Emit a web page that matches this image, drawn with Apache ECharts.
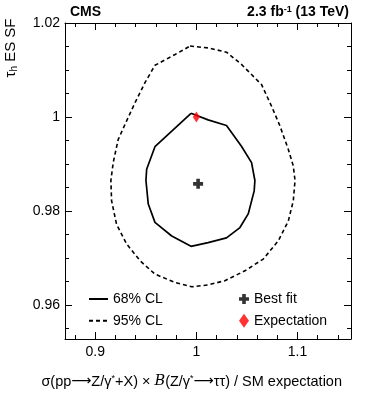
<!DOCTYPE html>
<html>
<head>
<meta charset="utf-8">
<script src="https://cdn.jsdelivr.net/npm/echarts@6/dist/echarts.min.js"></script>
<style>
  html, body { margin: 0; padding: 0; background: #fff; }
  #main { width: 366px; height: 395px; }
</style>
</head>
<body>
<div id="main"></div>
<script>
var chartDom = document.getElementById('main');
var myChart = echarts.init(chartDom);
var option;

// 68% CL contour (x: sigma x B / SM, y: tau_h ES SF)
const cl68 = [
  [0.9947, 1.0008], [1.0116, 0.9994], [1.0298, 0.9982], [1.0446, 0.9938],
  [1.0546, 0.9903], [1.0579, 0.9865], [1.0572, 0.9843], [1.0513, 0.9794],
  [1.0431, 0.9765], [1.0298, 0.9743], [1.0116, 0.9733], [0.9947, 0.9725],
  [0.9756, 0.9747], [0.9590, 0.9776], [0.9524, 0.9815], [0.9501, 0.9865],
  [0.9508, 0.9889], [0.9590, 0.9937], [0.9947, 1.0008]
];
// 95% CL contour
const cl95 = [
  [0.9937, 1.0151], [1.0116, 1.0147], [1.0298, 1.0138], [1.0446, 1.0112],
  [1.0645, 1.0069], [1.0744, 1.0023], [1.0827, 0.9981], [1.0910, 0.9931],
  [1.0959, 0.9896], [1.0976, 0.9865], [1.0959, 0.9822], [1.0910, 0.9779],
  [1.0811, 0.9737], [1.0662, 0.9698], [1.0480, 0.9673], [1.0282, 0.9652],
  [1.0116, 0.9643], [0.9954, 0.9639], [0.9789, 0.9648], [0.9590, 0.9666],
  [0.9445, 0.9694], [0.9310, 0.9730], [0.9210, 0.9772], [0.9161, 0.9822],
  [0.9154, 0.9865], [0.9177, 0.9903], [0.9226, 0.9952], [0.9310, 0.9992],
  [0.9392, 1.0030], [0.9491, 1.0073], [0.9590, 1.0110], [0.9789, 1.0133],
  [0.9937, 1.0151]
];
const bestFit = [[1.0017, 0.9858]];
const expectation = [[1.0, 1.0]];

// 轴刻度
const xMajor = [0.9, 1.0, 1.1];
const xMinor = [0.88, 0.92, 0.94, 0.96, 0.98, 1.02, 1.04, 1.06, 1.08, 1.12, 1.14];
const yMajor = [0.96, 0.98, 1.0, 1.02];
const yMinor = [0.955, 0.965, 0.97, 0.975, 0.985, 0.99, 0.995, 1.005, 1.01, 1.015];

const XMIN = 0.87, XMAX = 1.153;
const YMIN = 0.9528, YMAX = 1.02;
const FONT = '"Liberation Sans", Arial, Helvetica, sans-serif';
const PLUS = 'path://M3,0h3.4v3h3v3.4h-3v3h-3.4v-3h-3v-3.4h3z';

function makeAxis(pos, min, max, ticks, len, line, labels) {
  return {
    type: 'value',
    position: pos,
    min: min,
    max: max,
    axisLine: { show: line, onZero: false, lineStyle: { color: '#000', width: 1 } },
    axisTick: { show: true, inside: true, length: len, customValues: ticks, lineStyle: { color: '#000', width: 1 } },
    axisLabel: labels ? {
      show: true, customValues: labels, color: '#000', fontSize: 14, fontFamily: FONT,
      margin: pos === 'bottom' ? 6 : 5,
      formatter: function (v) { return String(+v.toFixed(3)); }
    } : { show: false },
    splitLine: { show: false }
  };
}

option = {
  animation: false,
  backgroundColor: '#fff',
  grid: { left: 65, top: 23, right: 15, bottom: 56 },
  xAxis: [
    makeAxis('bottom', XMIN, XMAX, xMajor, 7, true, xMajor),
    makeAxis('bottom', XMIN, XMAX, xMinor, 4, false, null),
    makeAxis('top', XMIN, XMAX, xMajor, 7, true, null),
    makeAxis('top', XMIN, XMAX, xMinor, 4, false, null)
  ],
  yAxis: [
    makeAxis('left', YMIN, YMAX, yMajor, 7, true, yMajor),
    makeAxis('left', YMIN, YMAX, yMinor, 4, false, null),
    makeAxis('right', YMIN, YMAX, yMajor, 7, true, null),
    makeAxis('right', YMIN, YMAX, yMinor, 4, false, null)
  ],
  legend: [
    {
      left: 83, top: 287, orient: 'vertical', padding: 5,
      itemWidth: 19, itemHeight: 14, itemGap: 7.7,
      itemStyle: { opacity: 0 },
      textStyle: { fontSize: 14, color: '#000', fontFamily: FONT },
      data: ['68% CL', '95% CL']
    },
    {
      left: 234, top: 287, orient: 'vertical', padding: 5,
      itemWidth: 10, itemHeight: 14, itemGap: 7.7,
      textStyle: { fontSize: 14, color: '#000', fontFamily: FONT },
      data: ['Best fit', 'Expectation']
    }
  ],
  series: [
    {
      name: '68% CL', type: 'line', data: cl68, symbol: 'none', smooth: false,
      lineStyle: { color: '#000', width: 1.7, type: 'solid' }, itemStyle: { color: '#000' }
    },
    {
      name: '95% CL', type: 'line', data: cl95, symbol: 'none', smooth: false,
      lineStyle: { color: '#000', width: 1.6, type: [4, 3] }, itemStyle: { color: '#000' }
    },
    {
      name: 'Best fit', type: 'scatter', data: bestFit, z: 5,
      symbol: PLUS, symbolSize: 10,
      itemStyle: { color: '#000' }
    },
    {
      name: 'Expectation', type: 'scatter', data: expectation, z: 6,
      symbol: 'diamond', symbolSize: [7, 11],
      itemStyle: { color: '#ff0000' }
    }
  ],
  graphic: [
    {
      type: 'text', left: 70, top: 5,
      style: { text: 'CMS', fontSize: 14, fontWeight: 'bold', fill: '#000', fontFamily: FONT }
    },
    {
      type: 'text', right: 17, top: 5,
      style: {
        text: '{b|2.3 fb}{s|-1}{b| (13 TeV)}', fill: '#000',
        rich: {
          b: { fontSize: 14, fontWeight: 'bold', fontFamily: FONT, fill: '#000' },
          s: { fontSize: 9, fontWeight: 'bold', fontFamily: FONT, fill: '#000', verticalAlign: 'top', padding: [0, 0, 6, 0] }
        }
      }
    },
    {
      type: 'text', x: 11, y: 48, rotation: Math.PI / 2,
      style: {
        text: '{n|τ}{h|h}{n| ES SF}', align: 'center', verticalAlign: 'middle',
        rich: {
          n: { fontSize: 15, fontFamily: FONT, fill: '#000' },
          h: { fontSize: 10, fontFamily: FONT, fill: '#000', padding: [6, 0, 0, 0] }
        }
      }
    },
    {
      type: 'text', right: 24, top: 374,
      style: {
        text: '{n|σ(pp}{a|⟶}{n|Z/γ}{s|*}{n|+X) × }{i|B}{n|(Z/γ}{s|*}{a|⟶}{n|ττ) / SM expectation}',
        rich: {
          n: { fontSize: 14.5, fontFamily: FONT, fill: '#000' },
          a: { fontSize: 14, fontFamily: '"DejaVu Sans", sans-serif', fill: '#000' },
          s: { fontSize: 9, fontFamily: FONT, fill: '#000', padding: [0, 0, 6, 0] },
          i: { fontSize: 14.5, fontFamily: '"DejaVu Serif", serif', fontStyle: 'italic', fill: '#000' }
        }
      }
    }
  ]
};

option && myChart.setOption(option);
</script>
</body>
</html>
